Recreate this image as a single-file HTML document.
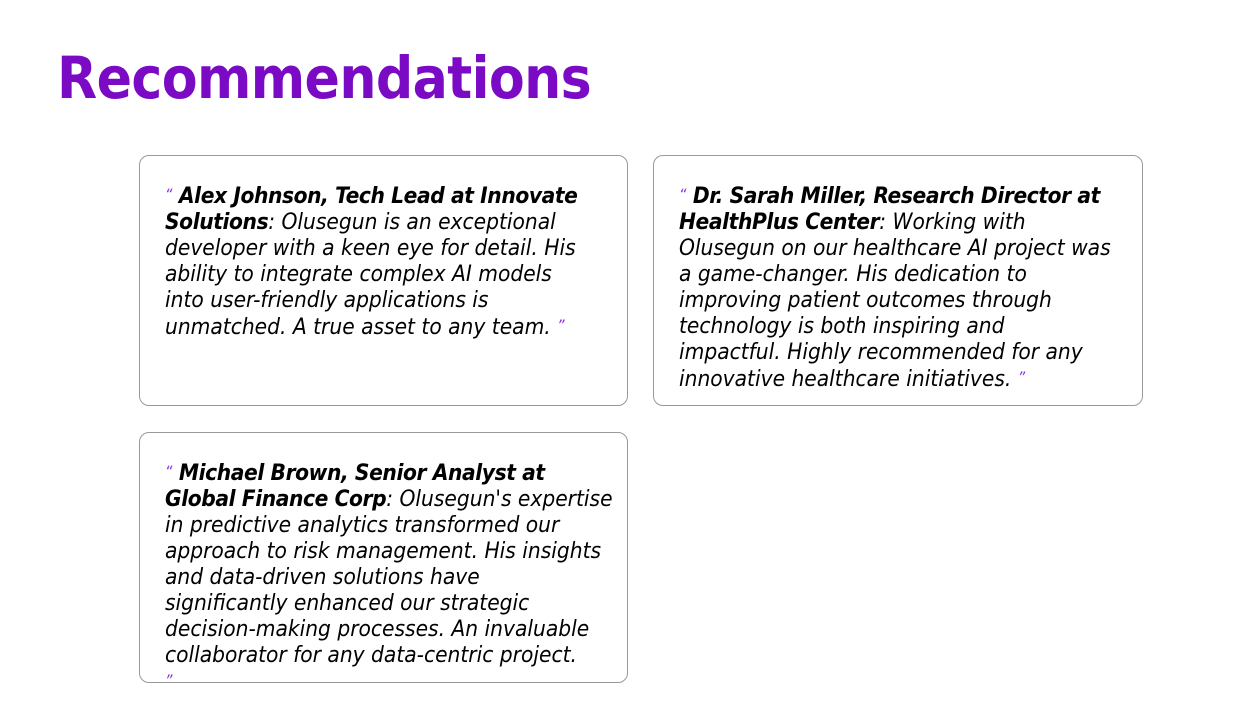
<!DOCTYPE html>
<html><head><meta charset="utf-8"><style>
body{margin:0;width:1238px;height:716px;background:#fff;overflow:hidden;font-family:"DejaVu Sans Condensed","DejaVu Sans","Liberation Sans",sans-serif;}
h1{position:absolute;left:57px;top:44px;margin:0;font-family:"DejaVu Sans Condensed","DejaVu Sans",sans-serif;font-weight:bold;font-size:58px;color:#7a0ac4;letter-spacing:-0.6px;}
.card{position:absolute;width:489px;height:251px;box-sizing:border-box;border:1px solid #999;border-radius:10px;padding:26px 10px 0 25px;font-style:italic;font-size:22.5px;line-height:26px;color:#000;white-space:nowrap;}
.q{color:#8a2be2;font-size:16px;vertical-align:3px;}
b{font-weight:bold;letter-spacing:-0.4px;}
</style></head><body>
<h1>Recommendations</h1>
<div class="card" style="left:139px;top:155px"><span class="q">“</span> <b>Alex Johnson, Tech Lead at Innovate</b><br><b>Solutions</b>: Olusegun is an exceptional<br>developer with a keen eye for detail. His<br>ability to integrate complex AI models<br>into user-friendly applications is<br>unmatched. A true asset to any team. <span class="q">”</span></div>
<div class="card" style="left:653px;top:155px;width:490px"><span class="q">“</span> <b>Dr. Sarah Miller, Research Director at</b><br><b>HealthPlus Center</b>: Working with<br>Olusegun on our healthcare AI project was<br>a game-changer. His dedication to<br>improving patient outcomes through<br>technology is both inspiring and<br>impactful. Highly recommended for any<br>innovative healthcare initiatives. <span class="q">”</span></div>
<div class="card" style="left:139px;top:432px;overflow:hidden"><span class="q">“</span> <b>Michael Brown, Senior Analyst at</b><br><b>Global Finance Corp</b>: Olusegun's expertise<br>in predictive analytics transformed our<br>approach to risk management. His insights<br>and data-driven solutions have<br>significantly enhanced our strategic<br>decision-making processes. An invaluable<br>collaborator for any data-centric project.<br><span class="q">”</span></div>
</body></html>
